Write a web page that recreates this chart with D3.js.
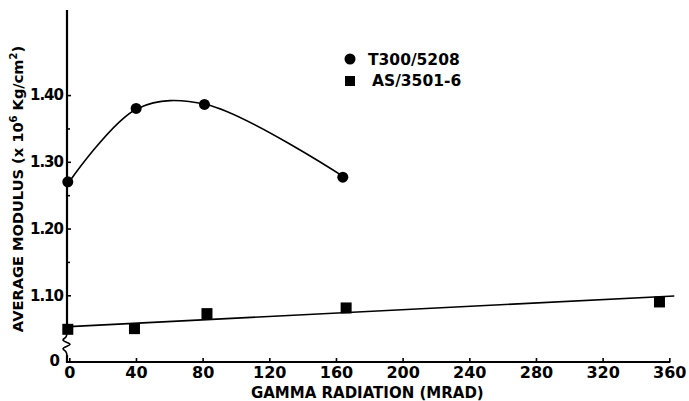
<!DOCTYPE html>
<html><head><meta charset="utf-8">
<script src="https://cdn.jsdelivr.net/npm/d3@7"></script>
<style>
body{margin:0;background:#fff}
svg{display:block}
text{font-family:"DejaVu Sans",sans-serif;font-weight:bold;fill:#000}
</style>
</head><body>
<svg id="chart" width="689" height="401"></svg>
<script>
// ---- data ----
const xTicks = [0, 40, 80, 120, 160, 200, 240, 280, 320, 360];
const yTicks = [1.0, 1.1, 1.2, 1.3, 1.4];
const yTickLabels = ["0", "1.10", "1.20", "1.30", "1.40"];
const yMinorTicks = [1.15, 1.25, 1.35];
const seriesNames = ["T300/5208", "AS/3501-6"];
const t300X = [0, 41, 82, 165];
const t300Y = [1.27, 1.38, 1.386, 1.277];
const asX = [0, 40, 83.5, 167, 355];
const asY = [1.049, 1.050, 1.0725, 1.081, 1.090];
const fitX = [0, 363];
const fitY = [1.053, 1.099];
const xTitle = "GAMMA RADIATION (MRAD)";

// ---- scales ----
const svg = d3.select("#chart");
const x = d3.scaleLinear().domain([0, 360]).range([69.3, 669.3]);
const y = d3.scaleLinear().domain([1.0, 1.5275]).range([362, 10]);
const axisX = 67;
const axisY = y(1.0);

// ---- axes ----
const gx = svg.append("g").attr("transform", `translate(0,${axisY})`)
  .call(d3.axisBottom(x).tickValues(xTicks).tickSize(-4).tickPadding(5).tickFormat(d3.format("d")));
gx.select(".domain").remove();
gx.selectAll(".tick line").attr("stroke", "#000").attr("stroke-width", 1.6);
gx.selectAll(".tick text").attr("font-size", 16).attr("font-family", null).attr("fill", "#000");

const gy = svg.append("g").attr("transform", `translate(${axisX},0)`)
  .call(d3.axisLeft(y).tickValues(yTicks).tickSize(-4).tickPadding(4)
    .tickFormat((d, i) => yTickLabels[i]));
gy.select(".domain").remove();
gy.selectAll(".tick line").attr("stroke", "#000").attr("stroke-width", 1.6)
  .filter(d => d === 1.0).remove();
gy.selectAll(".tick text").attr("font-size", 15).attr("letter-spacing", -1)
  .attr("font-family", null).attr("fill", "#000")
  .filter(d => d === 1.0).attr("x", -8).attr("dy", "0.2em");

const gyMinor = svg.append("g").attr("transform", `translate(${axisX},0)`)
  .call(d3.axisLeft(y).tickValues(yMinorTicks).tickSize(-3).tickFormat(""));
gyMinor.select(".domain").remove();
gyMinor.selectAll(".tick line").attr("stroke", "#000").attr("stroke-width", 1.6);

// axis lines with break
const breakTop = y(1.05) + 5, breakBot = axisY - 7;
svg.append("line").attr("x1", axisX).attr("x2", axisX).attr("y1", 10).attr("y2", breakTop)
  .attr("stroke", "#000").attr("stroke-width", 2.2);
const bh = breakBot - breakTop;
const zig = [[0, 0], [-1, bh * 0.15], [-4, bh * 0.3], [3, bh * 0.5], [-4, bh * 0.7], [-1, bh * 0.85], [0, bh]];
svg.append("path")
  .attr("d", d3.line().curve(d3.curveCatmullRom)(zig.map(p => [axisX + p[0], breakTop + p[1]])))
  .attr("fill", "none").attr("stroke", "#000").attr("stroke-width", 1.6);
svg.append("path")
  .attr("d", `M${axisX},${breakBot}V${axisY}H${x(360) + 1}`)
  .attr("fill", "none").attr("stroke", "#000").attr("stroke-width", 2.2);

// axis titles
svg.append("text").attr("x", (x(0) + x(360)) / 2 - 2).attr("y", 398)
  .attr("text-anchor", "middle").attr("font-size", 15).text(xTitle);

const yt = svg.append("text").attr("transform", "translate(23,189) rotate(-90)")
  .attr("text-anchor", "middle").attr("font-size", 14.6);
yt.append("tspan").text("AVERAGE MODULUS (x 10");
yt.append("tspan").attr("font-size", 10).attr("dy", -6).text("6");
yt.append("tspan").attr("dy", 6).text(" Kg/cm");
yt.append("tspan").attr("font-size", 10).attr("dy", -6).text("2");
yt.append("tspan").attr("dy", 6).text(")");

// ---- series ----
const t300 = t300X.map((v, i) => [v, t300Y[i]]);
const as = asX.map((v, i) => [v, asY[i]]);
const fit = fitX.map((v, i) => [v, fitY[i]]);

svg.append("path")
  .attr("d", d3.line().x(d => x(d[0])).y(d => y(d[1])).curve(d3.curveCatmullRom.alpha(0.5))(t300))
  .attr("fill", "none").attr("stroke", "#000").attr("stroke-width", 1.6);
svg.append("path")
  .attr("d", d3.line().x(d => x(d[0])).y(d => y(d[1]))(fit))
  .attr("fill", "none").attr("stroke", "#000").attr("stroke-width", 1.6);

svg.selectAll("circle.t300").data(t300).join("circle").attr("class", "t300")
  .attr("cx", d => x(d[0]) - 1.5).attr("cy", d => y(d[1])).attr("r", 5.5).attr("fill", "#000");
const sq = 11;
svg.selectAll("rect.as").data(as).join("rect").attr("class", "as")
  .attr("x", d => x(d[0]) - 1.5 - sq / 2).attr("y", d => y(d[1]) - sq / 2)
  .attr("width", sq).attr("height", sq).attr("fill", "#000");

// ---- legend ----
const lg = svg.append("g");
lg.append("circle").attr("cx", 350).attr("cy", 59).attr("r", 5.5).attr("fill", "#000");
lg.append("text").attr("x", 368).attr("y", 65).attr("font-size", 15.5).text(seriesNames[0]);
lg.append("rect").attr("x", 345).attr("y", 76).attr("width", 10).attr("height", 10).attr("fill", "#000");
lg.append("text").attr("x", 372).attr("y", 86).attr("font-size", 15.5).text(seriesNames[1]);
</script>
</body></html>
